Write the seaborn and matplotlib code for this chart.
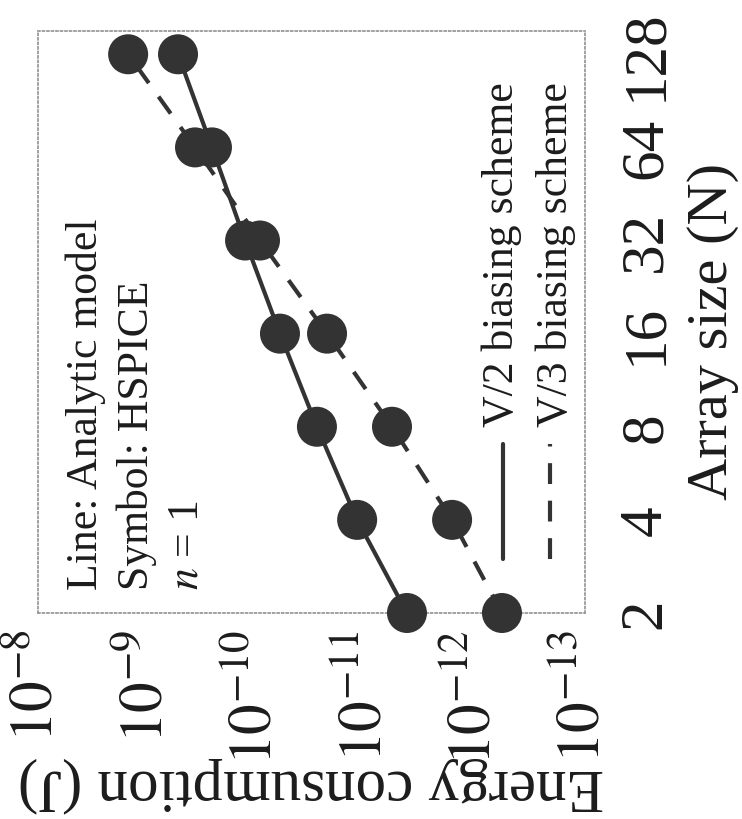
import matplotlib
matplotlib.use("Agg")
import matplotlib.pyplot as plt
from matplotlib.lines import Line2D
from matplotlib.ticker import NullLocator
import seaborn as sns

# Crossbar array size N (N x N)
array_size = [2, 4, 8, 16, 32, 64, 128]
size_tick_labels = ["2", "4", "8", "16", "32", "64", "128"]

# Energy consumption (J) for the two biasing schemes
energy_v2 = [4.24e-12, 1.21e-11, 2.82e-11, 6.14e-11, 1.28e-10, 2.57e-10, 5.25e-10]
energy_v3 = [5.74e-13, 1.64e-12, 5.81e-12, 2.28e-11, 9.35e-11, 3.67e-10, 1.50e-9]

energy_ticks = [1e-8, 1e-9, 1e-10, 1e-11, 1e-12, 1e-13]
energy_tick_labels = [r"$10^{-8}$", r"$10^{-9}$", r"$10^{-10}$",
                      r"$10^{-11}$", r"$10^{-12}$", r"$10^{-13}$"]

W, H = 742, 820
sns.set_theme(style="white")
plt.rcParams["font.family"] = ["Liberation Serif", "DejaVu Serif"]
plt.rcParams["mathtext.fontset"] = "stix"

fig = plt.figure(figsize=(W / 100, H / 100), dpi=100)


def fx(px):
    return px / W


def fy(py):
    return 1 - py / H


INK = "#333333"
TXT = "#1c1c1c"
LW = 3.0
DASH = (0, (5, 4))

ax = fig.add_axes([fx(38), fy(614), fx(585) - fx(38), fy(32) - fy(614)])
ax.set_xscale("log")
ax.set_yscale("log", base=2)

# analytic-model lines
sns.lineplot(x=energy_v2, y=array_size, sort=False, estimator=None,
             color=INK, lw=LW, ax=ax)
sns.lineplot(x=energy_v3, y=array_size, sort=False, estimator=None,
             color=INK, lw=LW, linestyle=DASH, ax=ax)
# HSPICE symbols
for e in (energy_v2, energy_v3):
    sns.scatterplot(x=e, y=array_size, s=830, color=INK, edgecolor="none",
                    linewidth=0, clip_on=False, zorder=4, ax=ax)

ax.set_xlim(1e-8, 1e-13)
ax.set_ylim(2, 2 ** 7.25)

ax.set_xticks(energy_ticks)
ax.set_xticklabels(energy_tick_labels, rotation=90, fontsize=44)
ax.yaxis.tick_right()
ax.set_yticks(array_size)
ax.set_yticklabels(size_tick_labels, rotation=90, va="center", fontsize=44)
ax.xaxis.set_minor_locator(NullLocator())
ax.yaxis.set_minor_locator(NullLocator())
ax.tick_params(axis="x", length=0, pad=11.5, colors=TXT)
ax.tick_params(axis="y", length=0, pad=24, colors=TXT)
ax.set_xlabel("")
ax.set_ylabel("")

for sp in ax.spines.values():
    sp.set_linestyle((0, (1, 1.5)))
    sp.set_color("#9a9a9a")
    sp.set_linewidth(1.3)

fig.text(fx(311), fy(770), "Energy consumption (J)", rotation=180,
         rotation_mode="anchor", ha="center", va="baseline", fontsize=44, color=TXT)
fig.text(fx(727), fy(331), "Array size (N)", rotation=90,
         rotation_mode="anchor", ha="center", va="baseline", fontsize=42, color=TXT)

# annotation block
for xb, s in [(97, "Line: Analytic model"), (148, "Symbol: HSPICE"), (197, r"$n$ = 1")]:
    fig.text(fx(xb), fy(590), s, rotation=90, rotation_mode="anchor",
             ha="left", va="baseline", fontsize=31.5, color=TXT)

# legend
fig.add_artist(Line2D([fx(503), fx(503)], [fy(560), fy(445)], color=INK, lw=LW,
                      transform=fig.transFigure))
fig.add_artist(Line2D([fx(550), fx(550)], [fy(560), fy(445)], color=INK, lw=LW,
                      linestyle=DASH, transform=fig.transFigure))
for xb, s in [(513, "V/2 biasing scheme"), (567, "V/3 biasing scheme")]:
    fig.text(fx(xb), fy(427), s, rotation=90, rotation_mode="anchor",
             ha="left", va="baseline", fontsize=31.5, color=TXT)

fig.savefig("out.png", dpi=100)
